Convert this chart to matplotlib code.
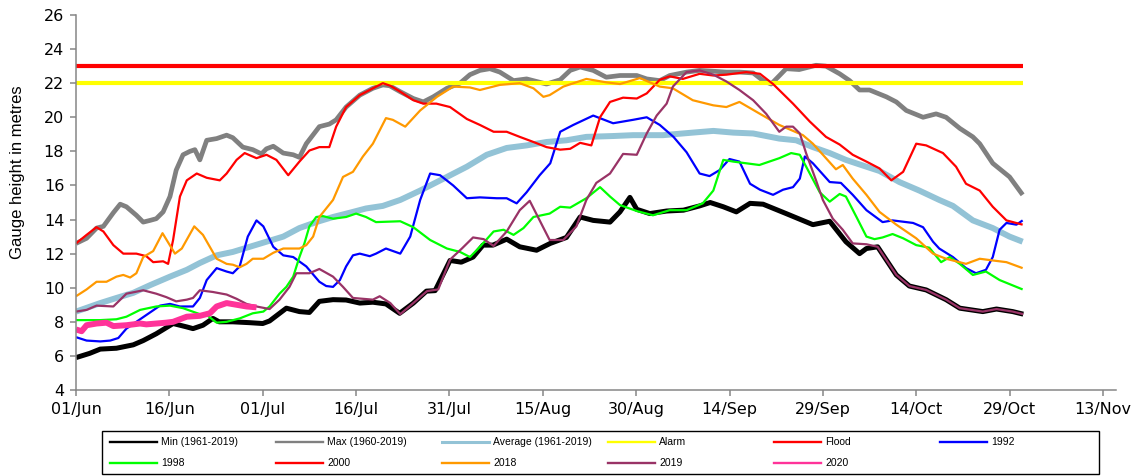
import matplotlib
matplotlib.use("Agg")
import matplotlib.pyplot as plt
from matplotlib.lines import Line2D
from matplotlib.patches import Rectangle

plt.rcParams['font.family'] = ['Liberation Sans', 'DejaVu Sans']

# days counted from 01/Jun
tick_days = [0, 15, 30, 45, 60, 75, 90, 105, 120, 135, 150, 165]
tick_labels = ['01/Jun', '16/Jun', '01/Jul', '16/Jul', '31/Jul', '15/Aug', '30/Aug',
               '14/Sep', '29/Sep', '14/Oct', '29/Oct', '13/Nov']

alarm_level = 22
flood_level = 23
level_days = [0, 152.1]

min_days = [0, 2.2, 3.9, 6.5, 9.2, 10.8, 12.9, 15.6, 17.8, 18.8, 20.4, 22, 23, 25.2, 27.9,
            30, 31.1, 33.8, 35.9, 37.5, 39.1, 41.3, 43.4, 45.6, 47.7, 49.8, 52, 54.2, 56.3, 57.7,
            60.1, 61.9, 63.8, 65.4, 67, 69.2, 71.3, 74, 76.2, 78.8, 81, 83.1, 85.8, 87.4, 89,
            90.1, 92.2, 94.9, 97.6, 100.2, 101.9, 104, 106.1, 108.3, 110.4, 114.1, 118.4, 121.1, 123.7, 125.9,
            127, 128.8, 131.8, 133.9, 136.6, 139.8, 142, 145.7, 147.9, 150.5, 152.2]
min_vals = [5.9, 6.15, 6.4, 6.45, 6.65, 6.9, 7.3, 7.9, 7.7, 7.6, 7.8, 8.2, 8.0, 8.0, 7.95,
            7.9, 8.05, 8.8, 8.6, 8.55, 9.2, 9.3, 9.28, 9.1, 9.15, 9.05, 8.5, 9.1, 9.8, 9.83,
            11.6, 11.5, 11.8, 12.5, 12.5, 12.85, 12.4, 12.2, 12.6, 12.95, 14.15, 13.95, 13.85, 14.45, 15.3,
            14.6, 14.35, 14.5, 14.55, 14.8, 15.0, 14.75, 14.45, 14.95, 14.9, 14.35, 13.7, 13.9, 12.7, 12.0,
            12.3, 12.4, 10.75, 10.1, 9.87, 9.3, 8.8, 8.6, 8.75, 8.6, 8.45]

max_days = [0, 1.7, 3.3, 4.4, 6, 7.1, 8.1, 9.7, 10.8, 11.9, 12.9, 14, 15.1, 16.1, 17.2,
            18.3, 19.1, 19.9, 21, 22.6, 24.2, 25.2, 26.8, 28.4, 29.8, 30.6, 31.7, 33.3, 34.9, 35.9,
            37, 39.1, 40.7, 41.8, 43.4, 45.6, 47.7, 49.3, 50.4, 52.1, 54.2, 55.8, 57.4, 59.6, 61.7,
            63.3, 64.9, 66.5, 68.1, 70.3, 72.4, 74, 75.6, 77.8, 79.4, 81, 83.1, 85.2, 87.4, 90.1,
            91.7, 93.8, 95.4, 98.1, 100.2, 102.4, 104.5, 106.6, 108.8, 110.4, 111.7, 114.1, 116.2, 118.9, 120.5,
            122.7, 124.3, 125.9, 127.5, 130.2, 131.8, 133.4, 136.1, 138.2, 139.8, 142, 144.1, 145.2, 147.3, 150,
            152.1]
max_vals = [12.6, 12.9, 13.5, 13.6, 14.4, 14.9, 14.75, 14.25, 13.85, 13.95, 14.05, 14.45, 15.35, 16.9, 17.8,
            18.0, 18.1, 17.5, 18.65, 18.75, 18.95, 18.8, 18.25, 18.1, 17.85, 18.15, 18.3, 17.9, 17.8, 17.65,
            18.45, 19.45, 19.6, 19.85, 20.6, 21.3, 21.7, 21.9, 21.85, 21.5, 21.1, 20.9, 21.2, 21.7, 22.0,
            22.5, 22.75, 22.85, 22.65, 22.15, 22.25, 22.1, 21.95, 22.2, 22.75, 22.95, 22.75, 22.35, 22.45, 22.45,
            22.25, 22.15, 22.45, 22.65, 22.75, 22.7, 22.65, 22.65, 22.6, 22.15, 21.95, 22.85, 22.8, 23.05, 23.0,
            22.55, 22.15, 21.6, 21.6, 21.2, 20.9, 20.4, 20.0, 20.2, 20.0, 19.35, 18.85, 18.45, 17.3, 16.5,
            15.45]

avg_days = [0, 3.9, 6.5, 9.2, 11.9, 15.1, 17.8, 19.9, 22.6, 25.2, 27.9, 30.6, 33.3, 35.9, 38.6,
            41.3, 44, 46.6, 49.3, 52.1, 55.3, 59.6, 62.8, 66, 69.2, 72.4, 75.6, 78.8, 82, 86.3,
            89.5, 94.3, 99.1, 102.4, 105.6, 108.8, 113, 115.7, 118.4, 121.1, 123.7, 127, 129.1, 132.3, 135.5,
            138.7, 140.9, 144.1, 147.3, 150, 152.1]
avg_vals = [8.6, 9.1, 9.4, 9.7, 10.15, 10.65, 11.05, 11.45, 11.9, 12.1, 12.4, 12.7, 13.0, 13.5, 13.85,
            14.15, 14.4, 14.65, 14.8, 15.15, 15.7, 16.5, 17.1, 17.8, 18.2, 18.35, 18.55, 18.65, 18.85, 18.9,
            18.95, 18.95, 19.1, 19.2, 19.1, 19.05, 18.75, 18.65, 18.25, 17.9, 17.5, 17.1, 16.85, 16.2, 15.7,
            15.15, 14.8, 13.95, 13.5, 13.0, 12.7]

y1992_days = [0, 1.7, 3.9, 5.5, 6.8, 8.1, 9.7, 11.3, 13.5, 15.1, 16.7, 18.8, 19.9, 21, 22.6,
              24.2, 25.2, 26.3, 27.6, 29, 30.1, 31.7, 33.3, 34.9, 37, 39.1, 40.2, 41.3, 42.4, 43.4,
              44.5, 45.6, 47.2, 48.2, 49.8, 52.1, 53.7, 55.3, 56.9, 58.5, 60.6, 62.8, 64.9, 67.6, 69.2,
              70.8, 72.4, 74.5, 76.2, 77.8, 79.9, 83.1, 86.3, 89.5, 91.7, 93.8, 96, 98.1, 100.2, 101.8,
              103.4, 105, 106.6, 108.3, 109.9, 112, 113.6, 115.2, 116.3, 117.1, 118.4, 121.1, 122.9, 124.8, 127,
              129.6, 131.2, 134.5, 136.1, 137.7, 138.7, 140.9, 143, 144.6, 146.2, 147.3, 148.4, 149.5, 151.1, 152.1]
y1992_vals = [7.1, 6.9, 6.85, 6.9, 7.05, 7.6, 8.0, 8.4, 8.95, 9.05, 8.9, 8.9, 9.4, 10.45, 11.15,
              10.95, 10.85, 11.25, 13.0, 13.95, 13.6, 12.4, 11.9, 11.8, 11.25, 10.35, 10.1, 10.05, 10.45, 11.25,
              11.9, 12.0, 11.85, 12.0, 12.3, 12.0, 13.0, 15.15, 16.7, 16.6, 16.0, 15.25, 15.3, 15.25, 15.25,
              14.95, 15.6, 16.6, 17.3, 19.15, 19.55, 20.1, 19.65, 19.85, 20.0, 19.55, 18.85, 17.95, 16.7, 16.55,
              16.9, 17.55, 17.4, 16.1, 15.75, 15.45, 15.75, 15.9, 16.4, 17.7, 17.3, 16.2, 16.15, 15.45, 14.55,
              13.85, 13.95, 13.8, 13.55, 12.7, 12.3, 11.8, 11.15, 10.85, 11.05, 11.8, 13.4, 13.8, 13.7, 13.95]

y1998_days = [0, 3.9, 6.5, 8.1, 10.3, 12.9, 15.1, 17.2, 19.9, 21, 22.6, 24.2, 26.3, 28.4, 30.1,
              31.1, 32.7, 33.8, 34.9, 35.9, 36.7, 37.5, 38.6, 39.7, 41.3, 43.4, 45, 46.6, 48.2, 52.1,
              54.2, 56.9, 59.6, 61.7, 63.3, 64.9, 67.1, 68.7, 70.3, 71.9, 73.5, 76.1, 77.8, 79.4, 82,
              84.2, 85.8, 87.4, 90.1, 92.7, 95.4, 98.1, 100.7, 102.4, 104, 105.6, 109.8, 113, 114.9, 116.3,
              117.9, 119.5, 121.1, 122.7, 123.7, 125.4, 127, 128.3, 129.6, 131.2, 132.9, 135, 137.1, 139, 140.4,
              142, 144.1, 146.2, 148.4, 152.1]
y1998_vals = [8.1, 8.1, 8.15, 8.3, 8.7, 8.9, 8.95, 8.8, 8.45, 8.4, 7.95, 8.0, 8.2, 8.5, 8.6,
              8.9, 9.65, 10.05, 10.65, 11.8, 12.6, 13.6, 14.15, 14.2, 14.05, 14.15, 14.35, 14.15, 13.85, 13.9,
              13.55, 12.8, 12.3, 12.1, 11.8, 12.4, 13.3, 13.4, 13.1, 13.5, 14.15, 14.35, 14.75, 14.7, 15.25,
              15.9, 15.35, 14.85, 14.5, 14.25, 14.55, 14.55, 14.95, 15.7, 17.5, 17.4, 17.2, 17.6, 17.9, 17.8,
              16.7, 15.6, 15.05, 15.5, 15.35, 14.15, 13.0, 12.85, 12.95, 13.15, 12.9, 12.5, 12.35, 11.5, 11.8,
              11.4, 10.75, 10.95, 10.45, 9.9]

y2000_days = [0, 1.7, 3.3, 4.4, 6, 7.6, 9.7, 11.3, 12.4, 14, 14.8, 15.6, 16.7, 17.8, 19.4,
              21, 23.1, 24.2, 25.8, 27.1, 29, 30.6, 32.2, 34.1, 35.9, 37.5, 39.1, 40.7, 41.8, 43.4,
              45.6, 49.3, 50.5, 52.1, 54.2, 55.8, 57.9, 60.1, 62.8, 64.9, 67.1, 69.2, 71.3, 73.5, 75.6,
              77.8, 79.4, 81, 82.8, 84.2, 85.8, 87.9, 90.1, 91.7, 93.8, 95.4, 97.5, 100.2, 102.4, 104.5,
              107.7, 109.9, 112, 115.2, 117.9, 120.5, 122.7, 124.8, 127, 129.1, 131, 132.9, 135, 136.6, 139.3,
              141.4, 143, 145.2, 147.3, 149.5, 152.1]
y2000_vals = [12.6, 13.1, 13.55, 13.3, 12.5, 12.0, 12.0, 11.85, 11.5, 11.55, 11.4, 12.8, 15.35, 16.3, 16.7,
              16.45, 16.3, 16.7, 17.5, 17.9, 17.6, 17.8, 17.5, 16.6, 17.4, 18.05, 18.25, 18.25, 19.45, 20.6,
              21.3, 22.0, 21.85, 21.5, 21.0, 20.8, 20.8, 20.6, 19.9, 19.55, 19.15, 19.15, 18.85, 18.55, 18.25,
              18.1, 18.15, 18.5, 18.35, 20.0, 20.9, 21.15, 21.1, 21.4, 22.2, 22.4, 22.25, 22.55, 22.45, 22.5,
              22.65, 22.55, 21.95, 20.8, 19.75, 18.85, 18.4, 17.8, 17.4, 17.0, 16.3, 16.8, 18.45, 18.35, 17.9,
              17.1, 16.1, 15.7, 14.75, 13.95, 13.7]

y2018_days = [0, 1.7, 3.3, 4.9, 6.5, 7.6, 8.7, 9.7, 10.8, 12.4, 13.9, 15.9, 17, 19, 20.4,
              22.6, 24.2, 25.2, 26.3, 27.4, 28.4, 30.1, 31.7, 33.3, 35.9, 37, 38.1, 39.1, 41.3, 42.9,
              44.5, 46.1, 47.7, 49.8, 50.9, 52.9, 55.3, 58, 60.6, 63.3, 64.9, 68.1, 71.3, 73.5, 75.1,
              76.1, 78.3, 82, 85.2, 87.4, 90.6, 93.8, 95.9, 99.1, 102.4, 104.5, 106.6, 109.9, 113, 116.8,
              118.4, 120.5, 122.1, 123.2, 124.8, 127, 129.1, 131.8, 135, 137.7, 139.8, 143, 145.2, 147.3, 149.5,
              152.1]
y2018_vals = [9.5, 9.9, 10.35, 10.35, 10.65, 10.75, 10.6, 10.85, 11.8, 12.15, 13.2, 12.0, 12.3, 13.6, 13.1,
              11.7, 11.4, 11.35, 11.2, 11.4, 11.7, 11.7, 12.05, 12.3, 12.3, 12.5, 13.0, 14.15, 15.15, 16.5,
              16.8, 17.7, 18.45, 19.95, 19.85, 19.45, 20.4, 21.2, 21.8, 21.75, 21.6, 21.9, 22.0, 21.7, 21.2,
              21.3, 21.8, 22.25, 22.05, 21.95, 22.3, 21.8, 21.7, 21.0, 20.7, 20.6, 20.9, 20.2, 19.55, 18.95,
              18.45, 17.6, 16.95, 17.2, 16.4, 15.45, 14.45, 13.7, 12.9, 12.0, 11.7, 11.4, 11.7, 11.6, 11.5,
              11.15]

y2019_days = [0, 1.7, 3.3, 6, 8.1, 10.8, 12.9, 14.5, 16.1, 17.8, 18.8, 19.9, 22, 24.2, 25.8,
              27.4, 29, 31.1, 32.7, 34.3, 35.4, 37.5, 39.1, 41.3, 42.9, 44.5, 46.1, 47.7, 48.8, 50.5,
              52.1, 54.2, 56.4, 58.2, 60.1, 62, 63.8, 65.5, 67.1, 69.2, 71.3, 72.9, 74.5, 76.1, 78.3,
              80.4, 82, 83.6, 85.8, 87.9, 90.1, 91.7, 93.3, 94.9, 95.9, 98.1, 100.2, 102.4, 104.5, 106.6,
              108.8, 110.9, 113, 114.1, 115.2, 116.3, 117.3, 118.9, 120, 121.6, 123.2, 124.8, 127, 128.8, 131.8,
              133.9, 136.6, 139.8, 142, 145.7, 147.9, 150.5, 152.2]
y2019_vals = [8.6, 8.7, 8.95, 8.9, 9.65, 9.85, 9.65, 9.45, 9.2, 9.3, 9.4, 9.85, 9.75, 9.6, 9.35,
              9.05, 8.9, 8.75, 9.3, 10.05, 10.85, 10.85, 11.1, 10.65, 10.05, 9.4, 9.35, 9.3, 9.5, 9.1,
              8.45, 9.1, 9.8, 9.9, 11.65, 12.3, 12.95, 12.85, 12.45, 13.3, 14.55, 15.1, 13.95, 12.8, 12.8,
              13.6, 15.15, 16.15, 16.7, 17.85, 17.8, 19.05, 20.1, 20.8, 21.8, 22.65, 22.75, 22.5, 22.1, 21.6,
              21.0, 20.2, 19.15, 19.45, 19.45, 19.05, 17.9, 16.3, 15.15, 14.05, 13.4, 12.6, 12.55, 12.4, 10.75,
              10.1, 9.87, 9.3, 8.8, 8.6, 8.75, 8.6, 8.45]

y2020_days = [0, 0.9, 1.7, 3.3, 4.9, 6, 8.1, 10.3, 11.3, 12.9, 14.5, 15.6, 17.8, 19.9, 21.5,
              22.6, 24.2, 25.8, 27.4, 29]
y2020_vals = [7.55, 7.45, 7.8, 7.9, 7.95, 7.75, 7.8, 7.9, 7.85, 7.9, 7.95, 8.0, 8.3, 8.35, 8.5,
              8.9, 9.1, 9.0, 8.9, 8.85]

series = [
    ('Min (1961-2019)', min_days, min_vals, 'black', 3.6),
    ('Max (1960-2019)', max_days, max_vals, '#808080', 3.4),
    ('Average (1961-2019)', avg_days, avg_vals, '#93c3d6', 4.3),
    ('Alarm', level_days, [alarm_level, alarm_level], '#ffff00', 3.0),
    ('Flood', level_days, [flood_level, flood_level], '#ff0000', 3.0),
    ('1992', y1992_days, y1992_vals, '#0000ff', 1.6),
    ('1998', y1998_days, y1998_vals, '#00ff00', 1.6),
    ('2000', y2000_days, y2000_vals, '#ff0000', 1.6),
    ('2018', y2018_days, y2018_vals, '#ff9900', 1.6),
    ('2019', y2019_days, y2019_vals, '#993366', 1.6),
    ('2020', y2020_days, y2020_vals, '#ff3399', 4.3),
]

W, H = 1142, 476
fig = plt.figure(figsize=(W / 100, H / 100), dpi=100)
ax = fig.add_axes([76 / W, 86 / H, 1040 / W, 375 / H])

for name, d, v, c, lw in series:
    ax.plot(d, v, color=c, lw=lw, solid_joinstyle='round', solid_capstyle='butt')

ax.set_xlim(0, 167.1)
ax.set_ylim(4, 26)
ax.set_xticks(tick_days)
ax.set_xticklabels(tick_labels)
ax.set_yticks(range(4, 27, 2))
for s in ['top', 'right']:
    ax.spines[s].set_visible(False)
for s in ['left', 'bottom']:
    ax.spines[s].set_color('#868686')
    ax.spines[s].set_linewidth(1.1)
ax.tick_params(axis='both', direction='out', length=4.5, width=1.1, color='#868686',
               labelsize=11.5, labelfontfamily='DejaVu Sans', pad=4)
ax.set_ylabel('Gauge height in metres', fontsize=12)
ax.yaxis.set_label_coords(-0.049, 0.582)

# legend box below the chart: 6 equal columns, 2 rows (laid out like the Excel legend)
fig.add_artist(Rectangle((102 / W, 1 - 474 / H), 997 / W, 43 / H, transform=fig.transFigure,
                         fill=False, edgecolor='black', lw=1.0))
for i, (name, d, v, c, lw) in enumerate(series):
    row, col = divmod(i, 6)
    x0 = 110 + 166 * col
    y = 1 - (442 + 21 * row) / H
    fig.add_artist(Line2D([x0 / W, (x0 + 47) / W], [y, y], transform=fig.transFigure,
                          color=c, lw=2.2 if name.startswith('Average') else 1.7))
    fig.text((x0 + 51) / W, y, name, fontsize=7.5, va='center', ha='left')

fig.savefig('out.png', dpi=100)
